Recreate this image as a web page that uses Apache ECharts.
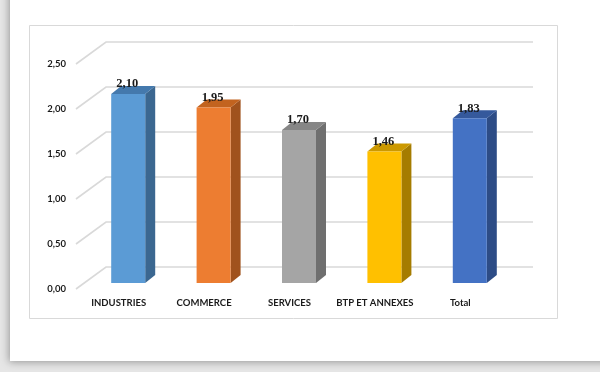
<!DOCTYPE html>
<html>
<head>
<meta charset="utf-8">
<script src="https://cdn.jsdelivr.net/npm/echarts@6/dist/echarts.min.js"></script>
<style>
html,body{margin:0;padding:0;background:#fff;}
#chart{width:600px;height:372px;}
</style>
</head>
<body>
<div id="chart"></div>
<script>
const categories = ['INDUSTRIES', 'COMMERCE', 'SERVICES', 'BTP ET ANNEXES', 'Total'];
const values = [2.10, 1.95, 1.70, 1.46, 1.83];
const tickValues = [0, 0.5, 1.0, 1.5, 2.0, 2.5];
const frontColors = ['#5b9bd5', '#ed7d31', '#a5a5a5', '#ffc000', '#4472c4'];
const sideColors  = ['#3b6790', '#a0521d', '#6f6f6f', '#a57c00', '#2d4c86'];
const topColors   = ['#4479ad', '#c2631f', '#868686', '#cc9900', '#35599c'];

const fmt = v => v.toFixed(2).replace('.', ',');

const chart = echarts.init(document.getElementById('chart'), null, {renderer: 'canvas'});

const DEPTH_X = 30, DEPTH_Y = -22;     // back wall offset
const BAR_DX = 10, BAR_DY = -8;        // bar depth
const BAR_SHIFT_X = 9.5, BAR_SHIFT_Y = -6, BAR_W = 34;

chart.setOption({
  backgroundColor: '#e6e6e6',
  animation: false,
  graphic: [
    { type: 'rect', z: -10, shape: { x: 10, y: -20, width: 610, height: 381 },
      style: { fill: '#ffffff', shadowBlur: 8, shadowColor: 'rgba(0,0,0,0.35)', shadowOffsetX: -1, shadowOffsetY: 1 } },
    { type: 'rect', z: -9, shape: { x: 29.5, y: 25.5, width: 528, height: 293 },
      style: { fill: '#ffffff', stroke: '#d9d9d9', lineWidth: 1 } }
  ],
  grid: { left: 76, right: 97, top: 64, bottom: 83 },
  xAxis: {
    type: 'category',
    data: categories,
    axisLine: { show: false },
    axisTick: { show: false },
    axisLabel: { interval: 0, margin: 9, color: '#1a1a1a', fontFamily: 'Lato', fontWeight: 'bold', fontSize: 9.5 }
  },
  yAxis: {
    type: 'value',
    min: 0, max: 2.5, interval: 0.5,
    axisLine: { show: false },
    axisTick: { show: false },
    splitLine: { show: false },
    axisLabel: { margin: 10, color: '#1a1a1a', fontFamily: 'Lato', fontWeight: 'bold', fontSize: 9.5,
      formatter: v => fmt(v) }
  },
  series: [
    {
      type: 'custom',
      silent: true,
      z: 1,
      data: tickValues.map(v => [0, v]),
      renderItem: function (params, api) {
        const cs = params.coordSys;
        const y = api.coord([0, api.value(1)])[1];
        return {
          type: 'polyline',
          shape: { points: [
            [cs.x, y],
            [cs.x + DEPTH_X, y + DEPTH_Y],
            [cs.x + cs.width + DEPTH_X, y + DEPTH_Y]
          ] },
          style: { stroke: '#d9d9d9', lineWidth: 1.6, fill: null }
        };
      }
    },
    {
      type: 'custom',
      z: 2,
      data: values.map((v, i) => [i, v]),
      renderItem: function (params, api) {
        const i = api.value(0), v = api.value(1);
        const p0 = api.coord([i, 0]);
        const p1 = api.coord([i, v]);
        const cx = p0[0] + BAR_SHIFT_X;
        const yb = p0[1] + BAR_SHIFT_Y;
        const yt = p1[1] + BAR_SHIFT_Y;
        const xl = cx - BAR_W / 2, xr = cx + BAR_W / 2;
        return {
          type: 'group',
          children: [
            { type: 'polygon', shape: { points: [[xr, yb], [xr + BAR_DX, yb + BAR_DY], [xr + BAR_DX, yt + BAR_DY], [xr, yt]] },
              style: { fill: sideColors[i] } },
            { type: 'polygon', shape: { points: [[xl, yt], [xl + BAR_DX, yt + BAR_DY], [xr + BAR_DX, yt + BAR_DY], [xr, yt]] },
              style: { fill: topColors[i] } },
            { type: 'rect', shape: { x: xl, y: yt, width: BAR_W, height: yb - yt },
              style: { fill: frontColors[i] } },
            { type: 'text', style: { text: fmt(v), x: cx - 1, y: yt - 10, textAlign: 'center', textVerticalAlign: 'middle',
              fill: '#1a1a1a', font: 'bold 12.5px "Liberation Serif"' } }
          ]
        };
      }
    }
  ]
});
</script>
</body>
</html>
